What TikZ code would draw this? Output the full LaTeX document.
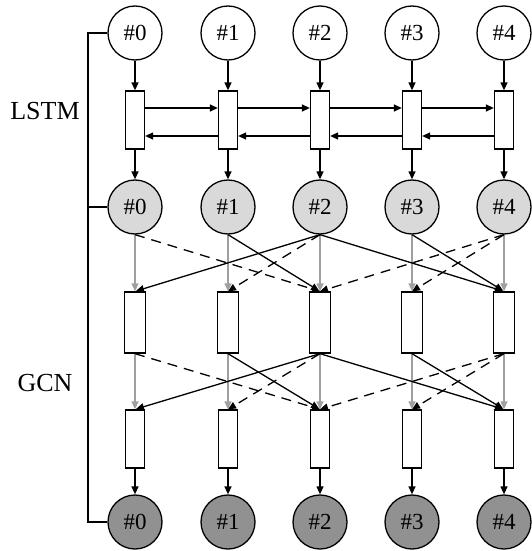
\documentclass[tikz,border=0pt]{standalone}
\usepackage{fontspec}
\setmainfont{Liberation Serif}
\usetikzlibrary{arrows.meta}

\definecolor{midfill}{RGB}{217,217,217}
\definecolor{outfill}{RGB}{145,145,145}
\definecolor{selfedge}{RGB}{160,160,160}

\tikzset{
  tok/.style={circle, draw, line width=1.3pt, minimum size=54pt, inner sep=0pt, font=\fontsize{23}{26}\selectfont},
  cell/.style={rectangle, draw, line width=1.3pt, fill=white, minimum width=19pt, minimum height=58pt, inner sep=0pt},
  gcell/.style={cell, minimum width=21pt, minimum height=61pt},
  arr/.style={line width=1.3pt, -{Triangle[length=8pt,width=7pt]}},
  selfarr/.style={arr, draw=selfedge},
  deparr/.style={arr, shorten >=1pt},
  dotarr/.style={arr, dash pattern=on 10pt off 7pt},
  lbl/.style={font=\fontsize{26}{30}\selectfont}
}

\begin{document}
\begin{tikzpicture}[x=1pt,y=-1pt]
  \useasboundingbox (0,0) rectangle (531,551);

  % token rows and cells
  \foreach \i/\x in {0/135,1/228,2/320,3/412,4/504}{
    \node[tok] (c\i) at (\x,33) {\#\i};
    \node[cell] (l\i) at (\x,120) {};
    \node[tok, fill=midfill] (h\i) at (\x,207) {\#\i};
    \node[gcell] (g\i) at (\x,322.5) {};
    \node[cell] (k\i) at (\x,439) {};
    \node[tok, fill=outfill] (o\i) at (\x,522) {\#\i};
    % vertical flow
    \draw[arr] (c\i.south) -- (l\i.north);
    \draw[arr] (l\i.south) -- (h\i.north);
    \draw[selfarr] (h\i.south) -- (g\i.north);
    \draw[selfarr] (g\i.south) -- (k\i.north);
    \draw[arr] (k\i.south) -- (o\i.north);
  }

  % bidirectional LSTM links
  \foreach \a/\b in {0/1,1/2,2/3,3/4}{
    \draw[arr] ([yshift=12pt]l\a.east) -- ([yshift=12pt]l\b.west);
    \draw[arr] ([yshift=-16pt]l\b.west) -- ([yshift=-16pt]l\a.east);
  }

  % dependency edges, layer 1 and layer 2
  \foreach \s/\t in {1/2,2/0,2/4,3/4}{
    \draw[deparr] (h\s.south) -- (g\t.north);
    \draw[deparr] (g\s.south) -- (k\t.north);
  }
  \foreach \s/\t in {0/2,2/1,4/2,4/3}{
    \draw[dotarr] (h\s.south) -- (g\t.north);
    \draw[dotarr] (g\s.south) -- (k\t.north);
  }

  % bracket on the left
  \coordinate (brtop) at (88,33);
  \coordinate (brbot) at (88,522);
  \draw[line width=1.3pt] (c0.west) -- (brtop) -- (brbot) -- (o0.west);
  \draw[line width=1.3pt] (h0.west) -- (h0.west -| brtop);

  % section labels
  \node[lbl] (lstm) at (45,111) {LSTM};
  \node[lbl] (gcn) at (45,383) {GCN};
\end{tikzpicture}
\end{document}
